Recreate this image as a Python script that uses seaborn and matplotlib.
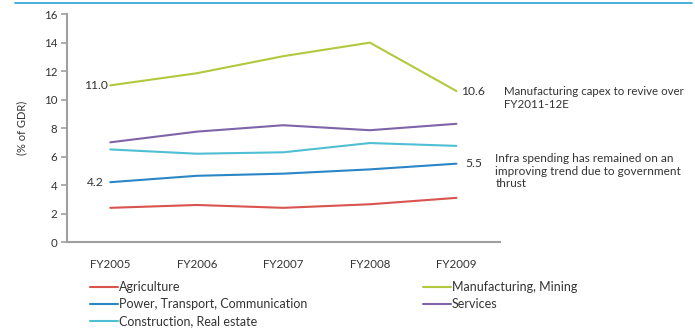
import numpy as np
import pandas as pd
import seaborn as sns
import matplotlib
matplotlib.use("Agg")
import matplotlib.pyplot as plt
from matplotlib.lines import Line2D

years = ["FY2005", "FY2006", "FY2007", "FY2008", "FY2009"]
agriculture = [2.4, 2.6, 2.4, 2.65, 3.1]
manufacturing = [11.0, 11.85, 13.05, 14.0, 10.6]
power = [4.2, 4.65, 4.8, 5.1, 5.5]
services = [7.0, 7.75, 8.2, 7.85, 8.3]
construction = [6.5, 6.2, 6.3, 6.95, 6.75]

sectors = {
    "Agriculture": agriculture,
    "Manufacturing, Mining": manufacturing,
    "Power, Transport, Communication": power,
    "Services": services,
    "Construction, Real estate": construction,
}
colors = {
    "Agriculture": "#d9534f",
    "Manufacturing, Mining": "#b3c83c",
    "Power, Transport, Communication": "#2a86c6",
    "Services": "#7f64a9",
    "Construction, Real estate": "#4fbfd4",
}

rows = []
for name, vals in sectors.items():
    for i, (yr, v) in enumerate(zip(years, vals)):
        rows.append({"pos": i, "year": yr, "sector": name, "value": v})
df = pd.DataFrame(rows)

sns.set_theme(style="white")
plt.rcParams["font.family"] = ["Lato", "DejaVu Sans"]
text_color = "#333333"
axis_color = "#a0a0a0"

fig = plt.figure(figsize=(6.95, 3.29), dpi=100)
ax = fig.add_axes([0.0964, 0.2644, 0.6226, 0.6926])

sns.lineplot(data=df, x="pos", y="value", hue="sector", palette=colors,
             hue_order=list(sectors.keys()), linewidth=1.5, ax=ax, legend=True)

ax.set_xlim(-0.5, 4.5)
ax.set_ylim(0, 16)
ax.set_yticks(np.arange(0, 17, 2))
ax.set_xticks(np.arange(-0.5, 5, 1))
ax.set_xticklabels([])
ax.set_xticks(range(5), minor=True)
ax.set_xticklabels(years, minor=True)
ax.tick_params(axis="x", which="minor", length=0, pad=12, labelsize=8.3, labelcolor=text_color)
ax.tick_params(axis="x", which="major", direction="out", length=4, width=1.2, color=axis_color)
ax.tick_params(axis="y", direction="out", length=4, width=1.2, color=axis_color,
               labelsize=8.3, labelcolor=text_color, left=True, pad=3)
for side in ["top", "right"]:
    ax.spines[side].set_visible(False)
for side in ["left", "bottom"]:
    ax.spines[side].set_color(axis_color)
    ax.spines[side].set_linewidth(1.5)
ax.set_xlabel("")
ax.set_ylabel("(% of GDR)", fontsize=8, color=text_color, labelpad=12)

# Value callouts at the ends of the series
ax.text(-0.03, manufacturing[0], f"{manufacturing[0]:.1f}", ha="right", va="center",
        fontsize=8.7, color=text_color)
ax.text(-0.08, power[0], f"{power[0]:.1f}", ha="right", va="center",
        fontsize=8.7, color=text_color)
ax.text(4.05, manufacturing[-1], f"{manufacturing[-1]:.1f}", ha="left", va="center",
        fontsize=8.7, color=text_color)
ax.text(4.1, power[-1], f"{power[-1]:.1f}", ha="left", va="center",
        fontsize=8.7, color=text_color)

ax.text(4.55, 10.92, "Manufacturing capex to revive over\nFY2011-12E", ha="left", va="top",
        fontsize=8.3, color=text_color, linespacing=1.2, clip_on=False)
ax.text(4.45, 6.27, "Infra spending has remained on an\nimproving trend due to government\nthrust",
        ha="left", va="top", fontsize=8.5, color=text_color, linespacing=1.2, clip_on=False)

handles, labels = ax.get_legend_handles_labels()
lookup = dict(zip(labels, handles))
order = ["Agriculture", "Power, Transport, Communication", "Construction, Real estate",
         "Manufacturing, Mining", "Services"]
ax.get_legend().remove()
leg = fig.legend([lookup[k] for k in order], order, ncol=2, loc="upper left",
                 bbox_to_anchor=(90 / 695, 1 - 281 / 329), frameon=False, fontsize=9,
                 handlelength=2.2, handletextpad=0.1, columnspacing=9.3,
                 labelspacing=0.42, borderpad=0, borderaxespad=0)
for t in leg.get_texts():
    t.set_color(text_color)

fig.add_artist(Line2D([15 / 695, 692 / 695], [1 - 2.5 / 329, 1 - 2.5 / 329],
                      color="#2aa0d8", linewidth=1.2))

fig.savefig("out.png", dpi=100)
